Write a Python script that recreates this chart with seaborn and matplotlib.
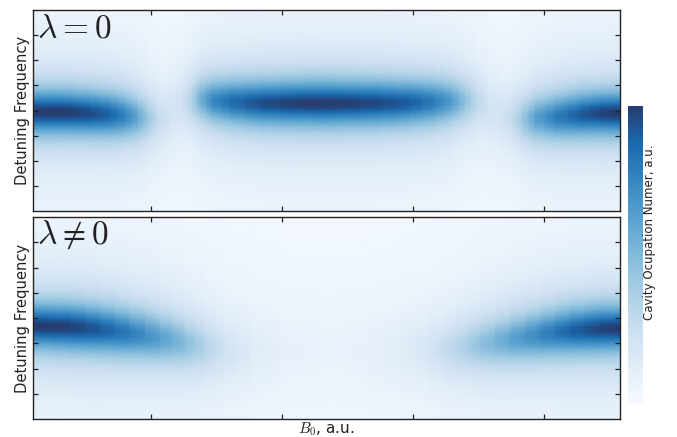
import numpy as np
import matplotlib
matplotlib.use("Agg")
import matplotlib.pyplot as plt
from matplotlib.colors import LinearSegmentedColormap
import seaborn as sns

# ---- data ----------------------------------------------------------------
# B0 sample positions (fraction of the scanned field range) and, for each,
# the resonance peak height, centre (detuning units) and half-width.
b0_top = [0.000, 0.046, 0.097, 0.131, 0.157, 0.179, 0.196, 0.213, 0.233,
          0.254, 0.271, 0.284, 0.305, 0.336, 0.387, 0.455, 0.523, 0.591,
          0.642, 0.685, 0.714, 0.736, 0.755, 0.775, 0.796, 0.816, 0.833,
          0.855, 0.889, 0.932, 0.966, 1.000]
amp_top = [0.97, 0.98, 0.93, 0.85, 0.72, 0.55, 0.38, 0.24, 0.17,
           0.19, 0.32, 0.50, 0.70, 0.82, 0.92, 0.97, 0.97, 0.93,
           0.87, 0.75, 0.60, 0.42, 0.27, 0.18, 0.17, 0.24, 0.38,
           0.58, 0.75, 0.88, 0.95, 0.98]
cen_top = [-0.05, -0.05, -0.10, -0.15, -0.20, -0.25, -0.30, -0.30, -0.10,
           0.30, 0.40, 0.45, 0.40, 0.35, 0.30, 0.30, 0.30, 0.30,
           0.32, 0.35, 0.38, 0.40, 0.35, 0.10, -0.20, -0.30, -0.35,
           -0.30, -0.25, -0.15, -0.10, -0.10]
wid_top = [0.85, 0.85, 0.85, 0.88, 0.90, 0.95, 1.00, 1.10, 1.30,
           1.20, 1.05, 0.95, 0.90, 0.88, 0.88, 0.88, 0.88, 0.88,
           0.88, 0.90, 0.92, 0.98, 1.10, 1.30, 1.30, 1.10, 1.00,
           0.95, 0.90, 0.88, 0.85, 0.85]

b0_bot = [0.000, 0.063, 0.114, 0.165, 0.216, 0.259, 0.293, 0.327, 0.370,
          0.421, 0.500, 0.574, 0.625, 0.676, 0.719, 0.761, 0.813, 0.864,
          0.915, 0.966, 1.000]
amp_bot = [0.97, 0.96, 0.88, 0.76, 0.60, 0.45, 0.30, 0.18, 0.10,
           0.06, 0.04, 0.06, 0.09, 0.16, 0.28, 0.42, 0.58, 0.72,
           0.86, 0.95, 0.97]
cen_bot = [-0.30, -0.35, -0.45, -0.60, -0.80, -1.00, -1.15, -1.25, -1.30,
           -1.30, -1.00, -1.30, -1.30, -1.25, -1.20, -1.05, -0.85, -0.65,
           -0.50, -0.42, -0.40]
wid_bot = [0.87, 0.90, 0.92, 0.95, 1.00, 1.05, 1.15, 1.30, 1.60,
           1.90, 2.10, 1.90, 1.60, 1.30, 1.15, 1.05, 1.00, 0.95,
           0.92, 0.90, 0.87]

background = 0.03
panel_labels = [r"$\lambda = 0$", r"$\lambda \neq 0$"]
ylabel = "Detuning Frequency"
xlabel = r"$B_0$, a.u."
cbar_label = "Cavity Ocupation Numer, a.u."

# ---- style ---------------------------------------------------------------
sns.set_style("ticks")
plt.rcParams["font.family"] = ["DejaVu Sans"]
plt.rcParams["mathtext.fontset"] = "cm"
blues = sns.color_palette("Blues", 8)[:-1] + [(0.15, 0.24, 0.44)]
cmap = LinearSegmentedColormap.from_list("blues_soft", [(0.969, 0.984, 1.0)] + list(blues))

fig = plt.figure(figsize=(6.77, 4.37), dpi=100)
ax_top = fig.add_axes([33 / 677, 1 - 211 / 437, 587 / 677, 201 / 437])
ax_bot = fig.add_axes([33 / 677, 1 - 419 / 437, 587 / 677, 202 / 437])
cax = fig.add_axes([628 / 677, 1 - 405 / 437, 15 / 677, 299 / 437])

det = np.linspace(-4, 4, 241)


def field(b0, amp, cen, wid):
    b0 = np.asarray(b0)
    amp = np.asarray(amp)[None, :]
    cen = np.asarray(cen)[None, :]
    wid = np.asarray(wid)[None, :]
    z = background + amp / (1 + ((det[:, None] - cen) / wid) ** 2)
    X, Y = np.meshgrid(b0, det)
    return X, Y, z


mesh = None
for ax, data, lab in [(ax_top, (b0_top, amp_top, cen_top, wid_top), panel_labels[0]),
                      (ax_bot, (b0_bot, amp_bot, cen_bot, wid_bot), panel_labels[1])]:
    X, Y, Z = field(*data)
    mesh = ax.pcolormesh(X, Y, Z, shading="gouraud", cmap=cmap, vmin=0, vmax=1,
                         rasterized=True)
    ax.set_axisbelow(False)
    ax.set_xlim(0, 1)
    ax.set_ylim(-4, 4)
    ax.set_xticks([0.201, 0.424, 0.647, 0.870])
    ax.set_yticks([-3, -2, -1, 0, 1, 2, 3])
    ax.tick_params(direction="in", length=3.5, width=0.9, top=True, right=True,
                   labelbottom=False, labelleft=False, color="#222222")
    for s in ax.spines.values():
        s.set_linewidth(1.0)
        s.set_color("#222222")
        s.set_zorder(3)
    ax.set_ylabel(ylabel, fontsize=10.6, labelpad=2, color="#222222")
    ax.text(0.006, 0.995, lab, transform=ax.transAxes, ha="left", va="top",
            fontsize=24, color="#222222")

ax_bot.set_xlabel(xlabel, fontsize=11, labelpad=1, color="#222222")

cb = fig.colorbar(mesh, cax=cax)
cb.outline.set_visible(False)
cb.set_ticks([])
fig.text(649 / 677, 1 - 232 / 437, cbar_label, rotation=90, ha="center",
         va="center", fontsize=8.5, color="#222222")

fig.savefig("out.png", dpi=100)
